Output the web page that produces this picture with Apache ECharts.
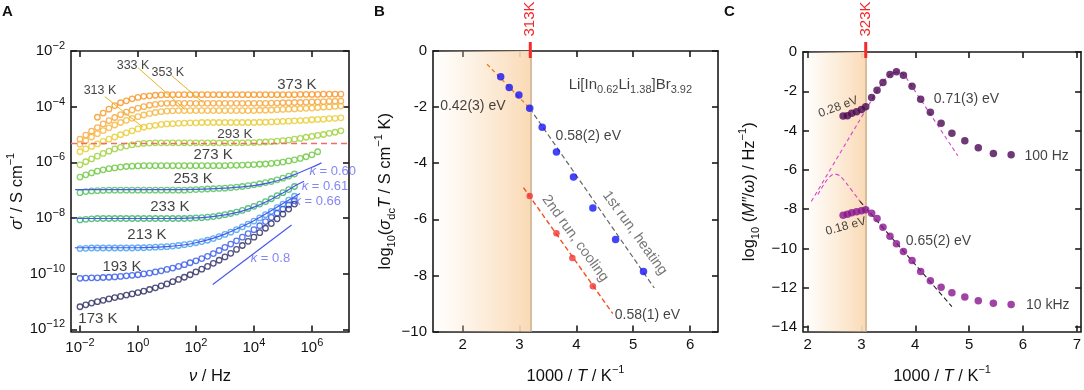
<!DOCTYPE html>
<html>
<head>
<meta charset="utf-8">
<script src="https://cdn.jsdelivr.net/npm/echarts@6/dist/echarts.min.js"></script>
<style>
  html, body { margin: 0; padding: 0; background: #fff; }
  #chart { width: 1084px; height: 390px; }
</style>
</head>
<body>
<div id="chart"></div>
<script>
const FONT = '"Liberation Sans", Arial, sans-serif';

// ---- panel A: conductivity spectra, log10(nu / Hz) vs log10(sigma' / S cm-1)
const logFreq = [-2.0, -1.8, -1.6, -1.4, -1.2, -1.0, -0.8, -0.6, -0.4, -0.2,
  0.0, 0.2, 0.4, 0.6, 0.8, 1.0, 1.2, 1.4, 1.6, 1.8,
  2.0, 2.2, 2.4, 2.6, 2.8, 3.0, 3.2, 3.4, 3.6, 3.8,
  4.0, 4.2, 4.4, 4.6, 4.8, 5.0, 5.2, 5.4, 5.6, 5.8,
  6.0, 6.2, 6.4, 6.6, 6.8, 7.0];

const sigma373 = [null, null, null, -4.38, -4.23, -4.09, -3.96, -3.86, -3.79, -3.72,
  -3.67, -3.63, -3.61, -3.59, -3.58, -3.57, -3.57, -3.57, -3.57, -3.57,
  -3.57, -3.57, -3.57, -3.57, -3.57, -3.57, -3.57, -3.57, -3.57, -3.57,
  -3.57, -3.57, -3.57, -3.57, -3.57, -3.57, -3.57, -3.57, -3.56, -3.56,
  -3.56, -3.56, -3.55, -3.55, -3.55, -3.55];
const sigma353 = [-5.17, -5.02, -4.88, -4.75, -4.62, -4.50, -4.39, -4.29, -4.20, -4.12,
  -4.05, -4.00, -3.95, -3.92, -3.89, -3.88, -3.88, -3.88, -3.88, -3.88,
  -3.88, -3.88, -3.88, -3.88, -3.88, -3.88, -3.88, -3.88, -3.88, -3.88,
  -3.88, -3.88, -3.88, -3.87, -3.87, -3.86, -3.86, -3.85, -3.85, -3.84,
  -3.83, -3.83, -3.82, -3.81, -3.81, -3.80];
const sigma333 = [-5.35, -5.22, -5.09, -4.97, -4.86, -4.76, -4.66, -4.57, -4.49, -4.42,
  -4.36, -4.30, -4.25, -4.21, -4.18, -4.16, -4.15, -4.14, -4.14, -4.14,
  -4.14, -4.14, -4.14, -4.14, -4.14, -4.14, -4.14, -4.14, -4.14, -4.14,
  -4.14, -4.13, -4.13, -4.12, -4.11, -4.10, -4.09, -4.08, -4.07, -4.06,
  -4.05, -4.03, -4.02, -4.01, -3.99, -3.98];
const sigma313 = [-5.62, -5.52, -5.43, -5.34, -5.25, -5.17, -5.09, -5.01, -4.94, -4.87,
  -4.80, -4.74, -4.70, -4.67, -4.64, -4.62, -4.61, -4.60, -4.59, -4.58,
  -4.58, -4.57, -4.57, -4.57, -4.57, -4.57, -4.57, -4.57, -4.57, -4.57,
  -4.57, -4.56, -4.56, -4.55, -4.54, -4.53, -4.52, -4.51, -4.50, -4.49,
  -4.47, -4.46, -4.45, -4.43, -4.42, -4.40];
const sigma293 = [-6.09, -5.98, -5.88, -5.78, -5.68, -5.60, -5.52, -5.46, -5.41, -5.37,
  -5.34, -5.32, -5.31, -5.30, -5.30, -5.30, -5.30, -5.30, -5.30, -5.30,
  -5.30, -5.30, -5.30, -5.30, -5.30, -5.30, -5.30, -5.30, -5.30, -5.29,
  -5.29, -5.28, -5.27, -5.26, -5.24, -5.22, -5.20, -5.17, -5.14, -5.10,
  -5.07, -5.03, -5.00, -4.96, -4.92, -4.87];
const sigma273 = [-6.53, -6.45, -6.38, -6.32, -6.27, -6.23, -6.20, -6.17, -6.15, -6.14,
  -6.13, -6.12, -6.12, -6.12, -6.12, -6.12, -6.12, -6.12, -6.12, -6.12,
  -6.12, -6.12, -6.12, -6.12, -6.12, -6.12, -6.11, -6.11, -6.10, -6.09,
  -6.08, -6.07, -6.06, -6.04, -6.02, -5.99, -5.95, -5.91, -5.86, -5.80,
  -5.73, -5.62, null, null, null, null];
const sigma253 = [-7.09, -7.05, -7.03, -7.02, -7.01, -7.00, -7.00, -7.00, -7.00, -7.00,
  -7.00, -7.00, -7.00, -7.00, -7.00, -7.00, -7.00, -7.00, -7.00, -6.99,
  -6.98, -6.97, -6.96, -6.95, -6.94, -6.93, -6.91, -6.89, -6.87, -6.84,
  -6.81, -6.77, -6.73, -6.69, -6.63, -6.57, -6.50, -6.42, null, null,
  null, null, null, null, null, null];
const sigma233 = [-8.07, -8.05, -8.03, -8.02, -8.02, -8.02, -8.02, -8.02, -8.02, -8.02,
  -8.02, -8.02, -8.02, -8.02, -8.02, -8.02, -8.02, -8.02, -8.02, -8.01,
  -8.00, -7.99, -7.97, -7.95, -7.92, -7.88, -7.84, -7.79, -7.73, -7.66,
  -7.58, -7.50, -7.41, -7.31, -7.20, -7.09, -6.98, -6.87, null, null,
  null, null, null, null, null, null];
const sigma213 = [-9.10, -9.09, -9.08, -9.08, -9.08, -9.08, -9.08, -9.08, -9.08, -9.08,
  -9.07, -9.07, -9.06, -9.05, -9.04, -9.03, -9.01, -8.99, -8.96, -8.93,
  -8.89, -8.85, -8.80, -8.74, -8.67, -8.59, -8.51, -8.42, -8.32, -8.22,
  -8.11, -8.00, -7.88, -7.76, -7.63, -7.50, -7.36, -7.22, null, null,
  null, null, null, null, null, null];
const sigma193 = [-10.17, -10.16, -10.15, -10.15, -10.14, -10.13, -10.12, -10.10, -10.08, -10.06,
  -10.04, -10.01, -9.98, -9.94, -9.90, -9.85, -9.80, -9.74, -9.68, -9.61,
  -9.54, -9.46, -9.38, -9.28, -9.17, -9.06, -8.94, -8.82, -8.69, -8.56,
  -8.42, -8.28, -8.13, -7.98, -7.83, -7.68, -7.53, -7.38, null, null,
  null, null, null, null, null, null];
const sigma173 = [-11.19, -11.12, -11.06, -11.01, -10.96, -10.91, -10.86, -10.82, -10.77, -10.73,
  -10.68, -10.63, -10.57, -10.51, -10.44, -10.37, -10.29, -10.21, -10.13, -10.04,
  -9.94, -9.84, -9.74, -9.63, -9.52, -9.40, -9.27, -9.13, -8.99, -8.84,
  -8.69, -8.53, -8.37, -8.20, -8.03, -7.86, -7.68, -7.50, null, null,
  null, null, null, null, null, null];

const temps = [373, 353, 333, 313, 293, 273, 253, 233, 213, 193, 173];
const sigmaByTemp = [sigma373, sigma353, sigma333, sigma313, sigma293, sigma273,
  sigma253, sigma233, sigma213, sigma193, sigma173];

// fitted curves (log10 nu, log10 sigma')
const fit253 = [[-2.17, -6.98], [1, -6.98], [2, -6.97], [3, -6.93], [3.5, -6.89], [4, -6.84],
  [4.5, -6.74], [5, -6.60], [5.5, -6.40], [6, -6.18], [6.33, -6.02]];
const fit233 = [[-2.18, -8.02], [1, -8.02], [2, -8.00], [2.5, -7.96], [3, -7.89], [3.5, -7.78],
  [4, -7.61], [4.5, -7.38], [5, -7.10], [5.5, -6.80], [5.73, -6.68]];
const fit213 = [[-2.18, -9.07], [0, -9.07], [1, -9.03], [1.5, -8.98], [2, -8.89], [2.5, -8.76],
  [3, -8.58], [3.5, -8.35], [4, -8.10], [4.5, -7.80], [5, -7.48], [5.59, -7.12]];
const slope08 = [[2.58, -10.39], [5.30, -8.25]];
const sigmaDc293 = -5.31;
const kappaValues = ['0.60', '0.61', '0.66', '0.8'];

// ---- panel B: Arrhenius plot of sigma_dc * T
const heatX = [2.67, 2.82, 2.99, 3.18, 3.40, 3.65, 3.95, 4.29, 4.69, 5.18];
const heatY = [-0.92, -1.30, -1.57, -2.04, -2.72, -3.60, -4.49, -5.60, -6.72, -7.86];
const coolX = [3.18, 3.65, 3.93, 4.29];
const coolY = [-5.17, -6.50, -7.38, -8.39];
const fitHighT = [[2.43, -0.47], [3.18, -2.04]];
const fitHeat = [[3.18, -2.04], [5.37, -8.45]];
const fitCool = [[3.07, -4.87], [4.64, -9.36]];
const transitionB = 3.19;   // 313 K

// ---- panel C: modulus peak positions
const modX = [2.66, 2.74, 2.82, 2.91, 3.00, 3.08, 3.19, 3.29, 3.40, 3.53, 3.65,
  3.78, 3.94, 4.10, 4.28, 4.48, 4.68, 4.92, 5.17, 5.45, 5.78];
const mod100Hz = [-3.25, -3.24, -3.12, -3.04, -2.92, -2.78, -2.31, -1.94, -1.55, -1.15, -1.01,
  -1.18, -1.74, -2.41, -3.07, -3.63, -4.13, -4.52, -4.87, -5.16, -5.23];
const mod10kHz = [-8.30, -8.26, -8.18, -8.13, -8.08, -8.03, -8.20, -8.47, -8.91, -9.38, -9.75,
  -10.15, -10.61, -11.17, -11.64, -11.97, -12.25, -12.46, -12.65, -12.78, -12.84];
const fit100Hz = [[2.07, -7.6], [3.08, -2.95], [3.3, -1.95], [3.45, -1.35], [3.6, -1.05],
  [3.7, -1.02], [3.8, -1.2], [3.95, -1.8], [4.79, -5.28]];
const fit10kHzPeak = [[2.19, -7.25], [2.3, -6.75], [2.4, -6.38], [2.5, -6.21], [2.6, -6.3],
  [2.75, -6.78], [2.97, -7.59]];
const fit10kHz = [[2.97, -7.59], [4.68, -12.95]];
const transitionC = 3.08;   // 323 K

// axis ranges and tick values
const aX = [-2.31, 7.28], aY = [-12.08, -2];
const bX = [1.48, 6.49], bY = [-10, 0];
const cX = [1.915, 7.08], cY = [-14.22, 0];
const aXTicks = [-2, 0, 2, 4, 6], aYTicks = [-12, -10, -8, -6, -4, -2];
const bXTicks = [2, 3, 4, 5, 6], bYTicks = [-10, -8, -6, -4, -2, 0];
const cXTicks = [2, 3, 4, 5, 6, 7], cYTicks = [-14, -12, -10, -8, -6, -4, -2, 0];

const tempColors = ['#f7921e', '#f8a235', '#f5b53a', '#e8cb2c', '#9bd032', '#66c73a',
  '#4fc052', '#37b266', '#3f9eee', '#2f55ea', '#26265e'];

const pairs = (xs, ys) => xs.map((x, i) => [x, ys[i]]).filter(p => p[1] != null);
const negLabel = v => v < -9 ? '−' + (-v) : (v < 0 ? '-' + (-v) : String(v));
const TS = 16.5;
const supRich = {
  n: { fontSize: TS, lineHeight: 24, fontFamily: FONT, color: '#111' },
  i: { fontSize: TS, lineHeight: 24, fontFamily: FONT, fontStyle: 'italic', color: '#111' },
  sp: { fontSize: 11, lineHeight: 11, verticalAlign: 'top', fontFamily: FONT, color: '#111' },
  sb: { fontSize: 11, lineHeight: 11, verticalAlign: 'bottom', fontFamily: FONT, color: '#111' }
};

const lineStyleAxis = { color: '#1a1a1a', width: 1.6 };

function axis(gridIndex, pos, range, ticks, labelFmt, extra) {
  return Object.assign({
    type: 'value', gridIndex, position: pos, min: range[0], max: range[1],
    axisLine: { show: true, onZero: false, lineStyle: lineStyleAxis },
    axisTick: { show: true, inside: true, length: 6, customValues: ticks, lineStyle: lineStyleAxis },
    axisLabel: labelFmt ? {
      show: true, customValues: ticks, formatter: labelFmt, fontSize: 15, fontFamily: FONT,
      color: '#111', margin: 6,
      rich: {
        b: { fontSize: 15, lineHeight: 21, fontFamily: FONT, color: '#111' },
        s: { fontSize: 11, lineHeight: 11, verticalAlign: 'top', fontFamily: FONT, color: '#111' }
      }
    } : { show: false },
    splitLine: { show: false }
  }, extra || {});
}

const powLabel = v => '{b|10}{s|' + (v < 0 ? '−' : '') + Math.abs(v) + '}';
const xName = '{n|1000 / }{i|T}{n| / K}{sp|−1}';

const xAxes = [
  axis(0, 'bottom', aX, aXTicks, powLabel, {
    name: '{i|ν}{n| / Hz}', nameLocation: 'middle', nameGap: 33, nameTextStyle: { rich: supRich }
  }),
  axis(0, 'top', aX, aXTicks, null),
  axis(1, 'bottom', bX, bXTicks, negLabel, {
    name: xName, nameLocation: 'middle', nameGap: 33, nameTextStyle: { rich: supRich }
  }),
  axis(1, 'top', bX, bXTicks, null),
  axis(2, 'bottom', cX, cXTicks, negLabel, {
    name: xName, nameLocation: 'middle', nameGap: 33, nameTextStyle: { rich: supRich }
  }),
  axis(2, 'top', cX, cXTicks, null)
];
const yAxes = [
  axis(0, 'left', aY, aYTicks, powLabel, {
    name: '{i|σ′}{n| / S cm}{sp|−1}', nameLocation: 'middle', nameGap: 42, nameTextStyle: { rich: supRich }
  }),
  axis(0, 'right', aY, aYTicks, null),
  axis(1, 'left', bY, bYTicks, negLabel, {
    name: '{n|log}{sb|10}{n|(}{i|σ}{sb|dc}{i|T}{n| / S cm}{sp|−1}{n| K)}',
    nameLocation: 'middle', nameGap: 36, nameTextStyle: { rich: supRich }
  }),
  axis(1, 'right', bY, bYTicks, null),
  axis(2, 'left', cY, cYTicks, negLabel, {
    name: '{n|log}{sb|10}{n| (}{i|M″}{n|/}{i|ω}{n|) / Hz}{sp|−1}{n|)}',
    nameLocation: 'middle', nameGap: 42, nameTextStyle: { rich: supRich }
  }),
  axis(2, 'right', cY, cYTicks, null)
];

const series = [];

// panel A circles
sigmaByTemp.forEach((vals, k) => {
  series.push({
    type: 'scatter', xAxisIndex: 0, yAxisIndex: 0, silent: true, z: 3,
    name: temps[k] + ' K',
    data: pairs(logFreq, vals), symbol: 'circle', symbolSize: 5.5,
    itemStyle: { color: 'rgba(0,0,0,0)', borderColor: tempColors[k], borderWidth: 1.3 }
  });
});
[fit253, fit233, fit213, slope08].forEach(d => {
  series.push({
    type: 'line', xAxisIndex: 0, yAxisIndex: 0, data: d, showSymbol: false, silent: true, z: 4,
    smooth: 0.3, lineStyle: { color: '#4a58ef', width: 1.2 }
  });
});
// dc level dashed line of 293 K
series.push({
  type: 'line', xAxisIndex: 0, yAxisIndex: 0, data: [], silent: true,
  markLine: {
    symbol: 'none', silent: true, label: { show: false },
    lineStyle: { color: '#f26b6b', type: [6, 4], width: 1.4 },
    data: [{ yAxis: sigmaDc293 }]
  }
});
// leader lines from labels
[[[0.0, -2.60], [1.62, -4.10]], [[1.17, -2.89], [2.24, -3.85]], [[-1.14, -3.64], [0.17, -4.74]]]
  .forEach(d => series.push({
    type: 'line', xAxisIndex: 0, yAxisIndex: 0, data: d, showSymbol: false, silent: true, z: 5,
    lineStyle: { color: '#e8b321', width: 1 }
  }));

function notes(xi, yi, items) {
  return {
    type: 'scatter', xAxisIndex: xi, yAxisIndex: yi, silent: true, symbolSize: 0, z: 10,
    data: items.map(it => ({
      value: [it.x, it.y],
      label: Object.assign({
        show: true, position: 'inside', formatter: it.t, fontSize: it.fs || 14,
        fontFamily: FONT, color: it.c || '#111', rotate: it.r || 0
      }, it.rich ? { rich: it.rich } : {})
    }))
  };
}

const kc = '#6468f2';
const kRich = {
  k: { fontSize: 13, fontStyle: 'italic', fontFamily: FONT, color: kc },
  v: { fontSize: 13, fontFamily: FONT, color: kc }
};
const kLabel = v => '{k|κ}{v| = ' + v + '}';
series.push(notes(0, 0, [
  { t: '373 K', x: 5.48, y: -3.21, fs: 15 },
  { t: '353 K', x: 1.03, y: -2.78, fs: 12.5 },
  { t: '333 K', x: -0.17, y: -2.53, fs: 12.5 },
  { t: '313 K', x: -1.31, y: -3.42, fs: 12.5 },
  { t: '293 K', x: 3.34, y: -4.99, fs: 13.5 },
  { t: '273 K', x: 2.59, y: -5.74, fs: 15 },
  { t: '253 K', x: 1.90, y: -6.59, fs: 15 },
  { t: '233 K', x: 1.10, y: -7.59, fs: 15 },
  { t: '213 K', x: 0.31, y: -8.62, fs: 15 },
  { t: '193 K', x: -0.55, y: -9.76, fs: 15 },
  { t: '173 K', x: -1.38, y: -11.64, fs: 15 },
  { t: kLabel(kappaValues[0]), x: 6.72, y: -6.33, rich: kRich },
  { t: kLabel(kappaValues[1]), x: 6.45, y: -6.85, rich: kRich },
  { t: kLabel(kappaValues[2]), x: 6.20, y: -7.40, rich: kRich },
  { t: kLabel(kappaValues[3]), x: 4.57, y: -9.44, rich: kRich }
]));

// panel B
const shade = (x0, x1) => ({
  silent: true,
  itemStyle: {
    color: new echarts.graphic.LinearGradient(0, 0, 1, 0, [
      { offset: 0, color: 'rgba(251,224,192,0)' },
      { offset: 1, color: 'rgba(250,218,182,1)' }
    ])
  },
  data: [[{ xAxis: x0 }, { xAxis: x1 }]]
});
const edge = x => ({
  symbol: 'none', silent: true, label: { show: false },
  lineStyle: { color: '#d8bd9c', width: 2, type: 'solid' }, data: [{ xAxis: x }]
});

series.push({
  type: 'line', xAxisIndex: 2, yAxisIndex: 2, data: [], silent: true,
  markArea: shade(bX[0], transitionB), markLine: edge(transitionB)
});
series.push({
  type: 'line', xAxisIndex: 2, yAxisIndex: 2, data: fitHighT, showSymbol: false, silent: true,
  lineStyle: { color: '#f47a1e', width: 1.3, type: [4, 3] }
});
series.push({
  type: 'line', xAxisIndex: 2, yAxisIndex: 2, data: fitHeat, showSymbol: false, silent: true,
  lineStyle: { color: '#666', width: 1.2, type: [5, 3] }
});
series.push({
  type: 'line', xAxisIndex: 2, yAxisIndex: 2, data: fitCool, showSymbol: false, silent: true,
  lineStyle: { color: '#f2501e', width: 1.4, type: [5, 3] }
});
series.push({
  type: 'scatter', xAxisIndex: 2, yAxisIndex: 2, data: pairs(heatX, heatY), symbolSize: 7.5,
  silent: true, itemStyle: { color: '#1414f5' }, z: 5
});
series.push({
  type: 'scatter', xAxisIndex: 2, yAxisIndex: 2, data: pairs(coolX, coolY), symbolSize: 6.5,
  silent: true, itemStyle: { color: '#f23434' }, z: 5
});
const fRich = {
  n: { fontSize: 15, lineHeight: 22, fontFamily: FONT, color: '#111' },
  sb: { fontSize: 11, lineHeight: 11, verticalAlign: 'bottom', fontFamily: FONT, color: '#111' }
};
series.push(notes(2, 2, [
  { t: '{n|Li[In}{sb|0.62}{n|Li}{sb|1.38}{n|]Br}{sb|3.92}', x: 4.95, y: -1.21, rich: fRich },
  { t: '0.42(3) eV', x: 2.18, y: -1.96 },
  { t: '0.58(2) eV', x: 4.21, y: -3.05 },
  { t: '2nd run, cooling', x: 3.98, y: -6.68, r: -54, c: '#555', fs: 14.5 },
  { t: '1st run, heating', x: 5.03, y: -6.49, r: -54, c: '#555', fs: 14.5 },
  { t: '0.58(1) eV', x: 5.25, y: -9.42 }
]));

// panel C
series.push({
  type: 'line', xAxisIndex: 4, yAxisIndex: 4, data: [], silent: true,
  markArea: shade(cX[0], transitionC), markLine: edge(transitionC)
});
series.push({
  type: 'line', xAxisIndex: 4, yAxisIndex: 4, data: fit100Hz, showSymbol: false, silent: true,
  smooth: 0.25, lineStyle: { color: '#d548c8', width: 1.1, type: [4, 3] }
});
series.push({
  type: 'line', xAxisIndex: 4, yAxisIndex: 4, data: fit10kHzPeak, showSymbol: false, silent: true,
  smooth: 0.3, lineStyle: { color: '#d548c8', width: 1.1, type: [4, 3] }
});
series.push({
  type: 'line', xAxisIndex: 4, yAxisIndex: 4, data: fit10kHz, showSymbol: false, silent: true,
  lineStyle: { color: '#222', width: 1.1, type: [5, 3] }
});
series.push({
  type: 'scatter', xAxisIndex: 4, yAxisIndex: 4, data: pairs(modX, mod100Hz), symbolSize: 7.5,
  silent: true, itemStyle: { color: '#4a0853' }, z: 5
});
series.push({
  type: 'scatter', xAxisIndex: 4, yAxisIndex: 4, data: pairs(modX, mod10kHz), symbolSize: 7.5,
  silent: true, itemStyle: { color: '#88148f' }, z: 5
});
series.push(notes(4, 4, [
  { t: '0.28 eV', x: 2.57, y: -2.80, fs: 12, r: 20 },
  { t: '0.71(3) eV', x: 4.95, y: -2.39 },
  { t: '100 Hz', x: 6.44, y: -5.31 },
  { t: '0.18 eV', x: 2.71, y: -8.87, fs: 12, r: 15 },
  { t: '0.65(2) eV', x: 4.43, y: -9.62 },
  { t: '10 kHz', x: 6.46, y: -12.90 }
]));

const chart = echarts.init(document.getElementById('chart'), null, { renderer: 'canvas' });
chart.setOption({
  animation: false,
  backgroundColor: '#fff',
  textStyle: { fontFamily: FONT },
  grid: [
    { left: 71, top: 51, width: 278, height: 283 },
    { left: 433, top: 51, width: 285, height: 282 },
    { left: 803, top: 52, width: 280, height: 281 }
  ],
  xAxis: xAxes,
  yAxis: yAxes,
  series
});

// panel letters and transition markers above the frames
function marker(xAxisIndex, x, text) {
  const px = chart.convertToPixel({ xAxisIndex }, x);
  return [
    { type: 'line', shape: { x1: px, y1: 42, x2: px, y2: 58 }, style: { stroke: '#f42a2a', lineWidth: 3 }, z: 50 },
    {
      type: 'text', x: px, y: 19, rotation: Math.PI / 2, z: 50,
      style: { text, fill: '#f42a2a', font: '15px ' + FONT, align: 'center', verticalAlign: 'middle' }
    }
  ];
}
const letter = (x, t) => ({
  type: 'text', left: x, top: 4,
  style: { text: t, fill: '#111', font: 'bold 15px ' + FONT }
});
chart.setOption({
  graphic: [
    letter(2, 'A'), letter(374, 'B'), letter(724, 'C'),
    ...marker(2, transitionB, '313K'),
    ...marker(4, transitionC, '323K')
  ]
});
</script>
</body>
</html>
